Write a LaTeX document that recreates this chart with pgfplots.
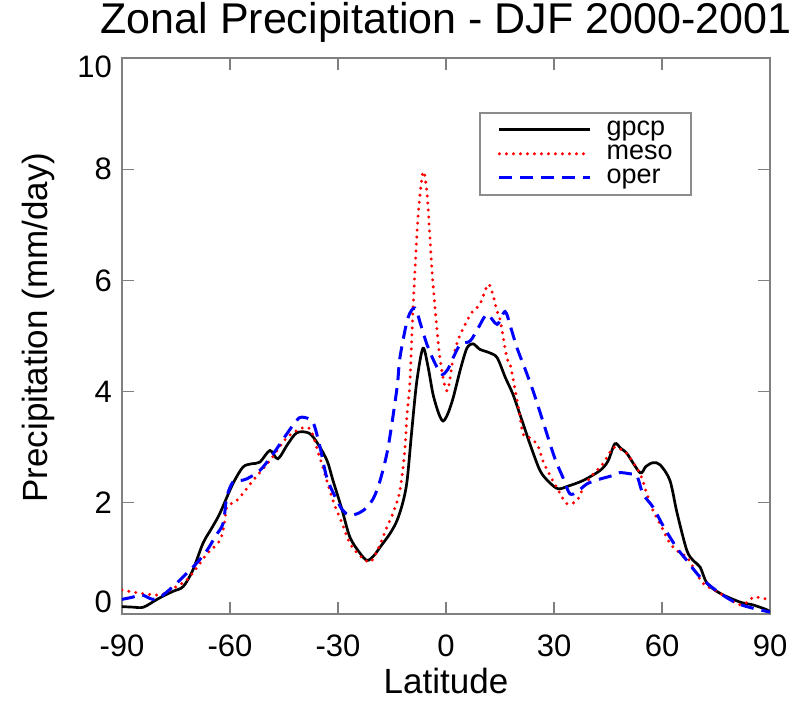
\documentclass[border=0pt]{standalone}
\usepackage{pgfplots}
\pgfplotsset{compat=1.18}
\usepackage{fontspec}
\setmainfont{Liberation Sans}

\begin{document}
\begin{tikzpicture}
\begin{axis}[
  at={(0pt,0pt)}, anchor=south west,
  scale only axis, width=648pt, height=555.6pt,
  xmin=-90, xmax=90, ymin=0, ymax=10,
  xtick={-90,-60,-30,0,30,60,90},
  xticklabels={-90,-60,-30,0,30,60,90},
  ytick={0,2,4,6,8,10},
  yticklabels={\raisebox{12pt}[\height][\depth]{0},2,4,6,8,\raisebox{-9pt}[\height][\depth]{10}},
  tick align=inside, major tick length=12pt,
  axis line style={black!50, line width=1.4pt},
  every tick/.style={black!50, line width=1.2pt},
  tick label style={font=\fontsize{31}{31}\selectfont},
  xticklabel style={inner sep=0pt, yshift=-21pt},
  yticklabel style={inner sep=0pt, xshift=-10pt},
  title={Zonal Precipitation - DJF 2000-2001},
  title style={at={(axis description cs:0.5,1)}, anchor=base, inner sep=0pt, yshift=18.7pt, font=\fontsize{43}{43}\selectfont},
  xlabel={Latitude},
  xlabel style={at={(axis description cs:0.5,0)}, anchor=base, inner sep=0pt, yshift=-80pt, font=\fontsize{35}{35}\selectfont},
  ylabel={Precipitation (mm/day)},
  ylabel style={at={(axis description cs:-0.1142,0.515)}, anchor=base, inner sep=0pt, font=\fontsize{35}{35}\selectfont},
  legend image code/.code={\draw[#1] (0pt,0pt) -- (91pt,0pt);},
  legend cell align=left,
  legend style={draw=black!45, line width=1.5pt, fill=white,
    at={(axis description cs:0.551,0.903)}, anchor=north west,
    font=\fontsize{27}{27}\selectfont, inner xsep=18pt, inner ysep=5pt,
    row sep=0pt, column sep=14pt,
    nodes={inner sep=0.5pt, text height=17pt, text depth=6pt}},
]
\addplot[black, line width=2.7pt, smooth, tension=0.5] coordinates {
(-90,0.13) (-87,0.12) (-84,0.12) (-80,0.27) (-76,0.40) (-73,0.49) (-70.3,0.79)
(-67.5,1.27) (-65,1.55) (-62.8,1.81) (-59.2,2.34) (-56.4,2.64) (-54,2.70)
(-51.7,2.73) (-48.9,2.94) (-46.7,2.79) (-44,3.05) (-41.4,3.26) (-38,3.25)
(-35.5,3.05) (-33,2.75) (-31.4,2.40) (-29,1.90) (-26.7,1.38) (-24,1.10)
(-21.9,0.96) (-20,1.05) (-18.3,1.20) (-15.5,1.45) (-13.6,1.68) (-12,2.0)
(-10.8,2.40) (-9.5,3.30) (-8.1,4.19) (-6.4,4.78) (-5,4.45) (-3.6,3.95)
(-2,3.6) (-0.8,3.47) (0.5,3.6) (2.0,3.89) (4,4.40) (5.8,4.78) (7.5,4.86)
(9.4,4.76) (12,4.70) (14.2,4.61) (16.5,4.25) (18.6,3.95) (21,3.5) (23.3,3.06)
(26.1,2.58) (28.5,2.38) (31.1,2.25) (34,2.30) (38.1,2.40) (42.8,2.58)
(45,2.75) (46.9,3.06) (48.5,2.98) (50.3,2.88) (53.9,2.54) (55.5,2.65)
(57.5,2.72) (59.5,2.68) (62.2,2.40) (64.2,1.81) (66.9,1.14) (68.8,0.95)
(70.6,0.84) (72.5,0.55) (76.1,0.37) (81.7,0.21) (85.3,0.16) (89.2,0.07) (90,0.03)
};
\addlegendentry{gpcp}
\addplot[red, line width=3.3pt, line cap=round, dash pattern=on 0pt off 7pt, smooth, tension=0.5] coordinates {
(-90,0.43) (-85,0.37) (-79.4,0.34) (-76,0.45) (-72,0.61) (-69,0.85) (-66.4,1.08)
(-62.8,1.32) (-61.5,1.65) (-60.9,1.92) (-58.1,2.04) (-56,2.2) (-53.6,2.40)
(-48.9,2.76) (-44.2,3.17) (-39.7,3.35) (-37.5,3.30) (-35.5,2.9) (-34.2,2.64)
(-31.4,2.04) (-29,1.65) (-26.7,1.27) (-24,1.05) (-21.1,0.93) (-19,1.15)
(-16.4,1.56) (-14.5,1.85) (-12.8,2.22) (-11.5,2.9) (-10.8,3.60) (-10,4.19)
(-9.2,5.44) (-7.8,7.11) (-6.4,7.95) (-5.3,7.59) (-4.5,6.8) (-3.6,5.93)
(-1.7,4.61) (0.3,4.01) (2,4.61) (3.5,4.95) (5.8,5.27) (7.5,5.45) (9.4,5.57)
(11.7,5.93) (13,5.75) (14.2,5.44) (15,5.30) (16.9,4.61) (17.8,4.50) (20,3.75)
(21.4,3.24) (22.5,3.20) (25.3,3.05) (26.9,2.76) (28.8,2.5) (30.8,2.27)
(33.6,1.98) (36.4,2.04) (38,2.25) (40,2.45) (43.6,2.70) (46.4,2.99) (48.3,2.97)
(50.3,2.88) (53.9,2.52) (55.8,2.16) (57.5,1.86) (60,1.55) (62.2,1.27)
(64.5,1.12) (66.9,1.02) (69,0.80) (71.4,0.55) (76.1,0.37) (79,0.25) (81.7,0.16)
(84,0.22) (85.3,0.30) (88,0.28) (90,0.25)
};
\addlegendentry{meso}
\addplot[blue, line width=3pt, dash pattern=on 13pt off 8pt, smooth, tension=0.5] coordinates {
(-90,0.26) (-87,0.30) (-84.5,0.34) (-81.5,0.26) (-79.4,0.30) (-76,0.48) (-72,0.73)
(-69,0.93) (-66.4,1.14) (-64,1.40) (-61.9,1.63) (-60.9,2.10) (-59.2,2.37)
(-57,2.40) (-55.3,2.43) (-51.7,2.58) (-48,2.88) (-44.2,3.24) (-41.5,3.48)
(-40,3.54) (-37,3.45) (-35,3.0) (-33.1,2.45) (-30.3,2.04) (-28.5,1.85)
(-26.7,1.77) (-24,1.82) (-21.9,1.92) (-20,2.1) (-18.3,2.40) (-16.1,2.99)
(-13.6,4.07) (-12.8,4.61) (-10.6,5.32) (-8.6,5.50) (-7,5.20) (-5.3,4.85)
(-3,4.5) (-1.1,4.31) (0.5,4.40) (2,4.61) (4,4.85) (6.7,4.91) (9,5.15)
(11.4,5.39) (14.2,5.21) (16.4,5.44) (18,5.15) (19.7,4.79) (22,4.40) (24.2,4.01)
(26.5,3.55) (28.9,3.06) (30.5,2.75) (32.5,2.45) (34.4,2.16) (36.5,2.20)
(39.2,2.34) (42.5,2.42) (46.4,2.49) (48.3,2.54) (51.1,2.52) (53,2.49)
(54.7,2.16) (57.5,1.92) (60,1.62) (62.2,1.38) (64.5,1.15) (66.9,0.96)
(69,0.78) (71.4,0.61) (76.1,0.37) (80.8,0.19) (85.3,0.10) (90,0.03)
};
\addlegendentry{oper}
\end{axis}
\pgfresetboundingbox
\path (-122pt,-87.2pt) rectangle (678pt,613.8pt);
\end{tikzpicture}
\end{document}
